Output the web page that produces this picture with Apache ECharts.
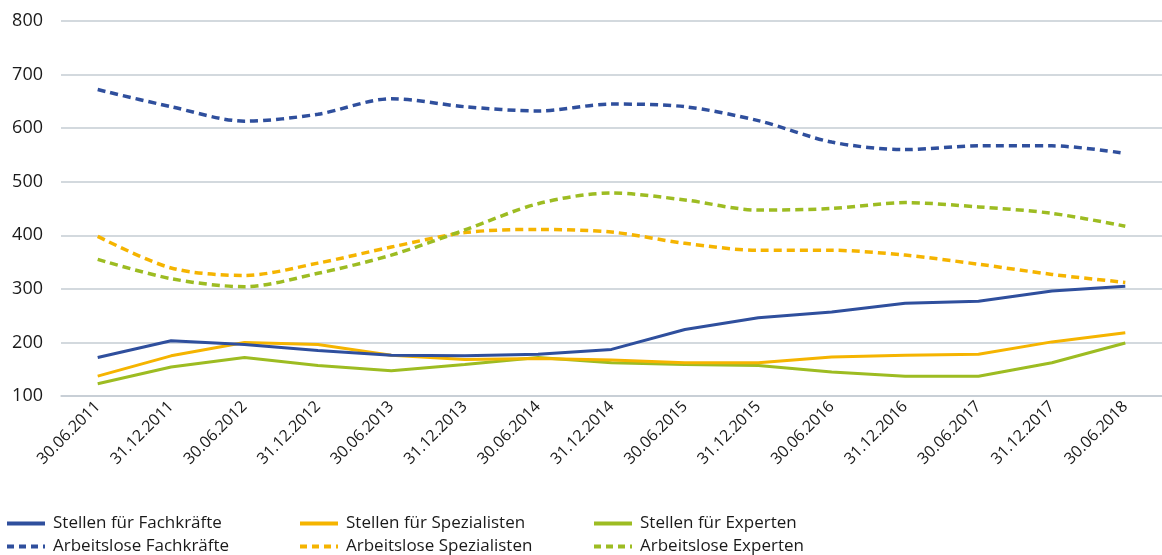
<!DOCTYPE html>
<html>
<head>
<meta charset="utf-8">
<script src="https://cdn.jsdelivr.net/npm/echarts@6/dist/echarts.min.js"></script>
<style>
html, body { margin: 0; padding: 0; background: #fff; }
#chart { width: 1162px; height: 555px; }
</style>
</head>
<body>
<div id="chart"></div>
<script>
var dates = ['30.06.2011', '31.12.2011', '30.06.2012', '31.12.2012', '30.06.2013', '31.12.2013', '30.06.2014',
	'31.12.2014', '30.06.2015', '31.12.2015', '30.06.2016', '31.12.2016', '30.06.2017', '31.12.2017', '30.06.2018'];

var stellenFach = [172, 203, 196, 185, 176, 175, 178, 187, 224, 246, 257, 273, 277, 296, 305];
var stellenSpez = [137, 175, 200, 196, 176, 168, 170, 167, 162, 162, 173, 176, 178, 201, 218];
var stellenExp = [123, 154, 172, 157, 147, 159, 172, 162, 159, 157, 145, 137, 137, 162, 199];
var alFach = [672, 640, 613, 626, 655, 640, 632, 645, 640, 614, 574, 560, 567, 567, 553];
var alSpez = [398, 339, 325, 348, 378, 405, 411, 406, 385, 372, 372, 363, 346, 327, 312];
var alExp = [355, 319, 304, 329, 363, 410, 459, 479, 466, 447, 450, 461, 453, 441, 417];

var yTicks = [100, 200, 300, 400, 500, 600, 700, 800];

var blue = '#2f4f9d';
var orange = '#f5b400';
var green = '#9dbc22';
var dash = [8, 5];

var chart = echarts.init(document.getElementById('chart'));

function line(name, data, color, dashed) {
	return {
		name: name,
		type: 'line',
		data: data,
		symbol: 'none',
		smooth: dashed ? 0.3 : false,
		lineStyle: {
			color: color,
			width: dashed ? 3.5 : 3,
			type: dashed ? dash : 'solid'
		},
		itemStyle: { color: color }
	};
}

// one small legend per entry, so the columns line up like the original
var legendPos = [
	{ name: 'Stellen für Fachkräfte', left: 5, top: 515, dashed: false },
	{ name: 'Stellen für Spezialisten', left: 298, top: 515, dashed: false },
	{ name: 'Stellen für Experten', left: 592, top: 515, dashed: false },
	{ name: 'Arbeitslose Fachkräfte', left: 5, top: 538, dashed: true },
	{ name: 'Arbeitslose Spezialisten', left: 298, top: 538, dashed: true },
	{ name: 'Arbeitslose Experten', left: 592, top: 538, dashed: true }
];

var legends = legendPos.map(function(p) {
	return {
		left: p.left,
		top: p.top,
		padding: 0,
		itemWidth: 38,
		itemHeight: 16,
		itemGap: 10,
		selectedMode: false,
		textStyle: { fontFamily: 'Open Sans', fontSize: 17, color: '#1a1a1a', padding: [0, 0, 0, 3] },
		data: [{
			name: p.name,
			itemStyle: { opacity: 0 },
			lineStyle: { width: 4, type: p.dashed ? [7, 5] : 'solid' }
		}]
	};
});

chart.setOption({
	animation: false,
	textStyle: { fontFamily: 'Open Sans' },
	legend: legends,
	grid: {
		left: 61,
		right: -22,
		top: 21,
		bottom: 159
	},
	xAxis: {
		type: 'category',
		data: dates,
		boundaryGap: true,
		axisLine: { lineStyle: { color: '#c5ccd3', width: 1.5 } },
		axisTick: { alignWithLabel: true, length: 8, lineStyle: { color: '#c5ccd3', width: 1.5 } },
		axisLabel: {
			rotate: 45,
			margin: 8,
			fontSize: 16,
			color: '#1a1a1a',
			fontFamily: 'Open Sans'
		}
	},
	yAxis: {
		type: 'value',
		min: yTicks[0],
		max: yTicks[yTicks.length - 1],
		interval: 100,
		axisLine: { show: false },
		axisTick: { show: false },
		splitLine: { lineStyle: { color: '#c5ccd3', width: 1.5 } },
		axisLabel: {
			margin: 18,
			fontSize: 18,
			color: '#1a1a1a',
			fontFamily: 'Open Sans'
		}
	},
	series: [
		line('Arbeitslose Fachkräfte', alFach, blue, true),
		line('Arbeitslose Spezialisten', alSpez, orange, true),
		line('Arbeitslose Experten', alExp, green, true),
		line('Stellen für Experten', stellenExp, green, false),
		line('Stellen für Spezialisten', stellenSpez, orange, false),
		line('Stellen für Fachkräfte', stellenFach, blue, false)
	]
});
window.onresize = chart.resize;
</script>
</body>
</html>
